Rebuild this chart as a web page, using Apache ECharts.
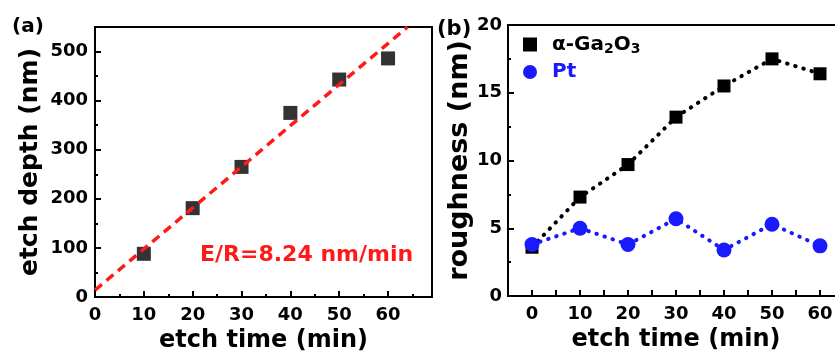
<!DOCTYPE html>
<html lang="en">
<head>
  <meta charset="UTF-8">
  <title>etch depth / roughness</title>
  <script src="https://cdn.jsdelivr.net/npm/echarts@6/dist/echarts.min.js"></script>
  <style>
    html, body { margin: 0; padding: 0; background: #fff; }
  </style>
</head>
<body>
  <div id="main" style="width:835px;height:352px"></div>

  <script>
    // (a) etch depth vs time
    var etchTime = [10, 20, 30, 40, 50, 60]
    var etchDepth = [88, 181, 265, 375, 443, 486]
    // fitted line endpoints
    var fitTime = [0, 64]
    var fitDepth = [14, 550]

    // (b) roughness vs time
    var roughTime = [0, 10, 20, 30, 40, 50, 60]
    var gaRough = [3.6, 7.3, 9.7, 13.2, 15.5, 17.5, 16.4]
    var ptRough = [3.8, 5.0, 3.8, 5.7, 3.4, 5.3, 3.7]

    var font = 'DejaVu Sans'
    var mCharts = echarts.init(document.getElementById('main'))

    function pairs(xs, ys) {
      return xs.map(function (x, i) { return [x, ys[i]] })
    }

    var tickLabel = { color: '#000', fontFamily: font, fontWeight: 'bold', fontSize: 18 }
    var axisLine = { show: true, onZero: false, lineStyle: { color: '#000', width: 2 } }
    var axisTick = { show: true, inside: true, length: 6, lineStyle: { color: '#000', width: 2 } }
    var minorTick = { show: true, splitNumber: 2, length: 3, lineStyle: { color: '#000', width: 2 } }
    function nameStyle(size) {
      return { color: '#000', fontFamily: font, fontWeight: 'bold', fontSize: size }
    }

    var option = {
      animation: false,
      grid: [
        { left: 95, top: 27, width: 337, height: 270, show: true, borderColor: '#000', borderWidth: 2, outerBoundsMode: 'none', containLabel: false },
        { left: 508, top: 25, width: 336, height: 271, show: true, borderColor: '#000', borderWidth: 2, outerBoundsMode: 'none', containLabel: false }
      ],
      xAxis: [
        {
          gridIndex: 0, type: 'value', min: 0, max: 69, interval: 10,
          name: 'etch time (min)', nameLocation: 'middle', nameGap: 30, nameTextStyle: nameStyle(24),
          axisLine: axisLine, axisTick: axisTick, minorTick: minorTick, splitLine: { show: false },
          axisLabel: Object.assign({ margin: 9, formatter: function (v) { return v % 10 === 0 ? v : '' } }, tickLabel)
        },
        {
          gridIndex: 1, type: 'value', min: -5, max: 65, interval: 5,
          name: 'etch time (min)', nameLocation: 'middle', nameGap: 30, nameTextStyle: nameStyle(24),
          axisLine: axisLine, axisTick: axisTick, splitLine: { show: false },
          axisLabel: Object.assign({ margin: 9, formatter: function (v) { return v % 10 === 0 ? v : '' } }, tickLabel)
        }
      ],
      yAxis: [
        {
          gridIndex: 0, type: 'value', min: 0, max: 550, interval: 100,
          name: 'etch depth (nm)', nameLocation: 'middle', nameGap: 52, nameTextStyle: nameStyle(25),
          axisLine: axisLine, axisTick: axisTick, minorTick: minorTick, splitLine: { show: false },
          axisLabel: Object.assign({ margin: 7, formatter: function (v) { return v % 100 === 0 ? v : '' } }, tickLabel)
        },
        {
          gridIndex: 1, type: 'value', min: 0, max: 20, interval: 5,
          name: 'roughness (nm)', nameLocation: 'middle', nameGap: 28, nameTextStyle: nameStyle(27),
          axisLine: axisLine, axisTick: axisTick, minorTick: minorTick, splitLine: { show: false },
          axisLabel: Object.assign({ margin: 6 }, tickLabel)
        }
      ],
      legend: {
        orient: 'vertical', left: 518, top: 28, itemGap: 6,
        itemWidth: 14, itemHeight: 14,
        data: [
          { name: 'α-Ga2O3', icon: 'rect' },
          { name: 'Pt', icon: 'circle' }
        ],
        formatter: function (name) {
          if (name === 'Pt') return '{b|Pt}'
          return '{k|α-Ga}{ks|2}{k|O}{ks|3}'
        },
        textStyle: {
          padding: [0, 0, 0, 10],
          rich: {
            k: { color: '#000', fontFamily: font, fontWeight: 'bold', fontSize: 20, lineHeight: 24 },
            ks: { color: '#000', fontFamily: font, fontWeight: 'bold', fontSize: 14, lineHeight: 24, padding: [9, 0, 0, 0] },
            b: { color: '#1a1aff', fontFamily: font, fontWeight: 'bold', fontSize: 20, lineHeight: 24 }
          }
        }
      },
      graphic: [
        { type: 'text', left: 12, top: 17, style: { text: '(a)', fill: '#000', font: 'bold 20px "DejaVu Sans"' } },
        { type: 'text', left: 437, top: 19, style: { text: '(b)', fill: '#000', font: 'bold 21px "DejaVu Sans"' } },
        { type: 'text', left: 200, top: 244, style: { text: 'E/R=8.24 nm/min', fill: '#ff1a1a', font: 'bold 22px "DejaVu Sans"' } }
      ],
      series: [
        {
          type: 'line', xAxisIndex: 0, yAxisIndex: 0, data: pairs(fitTime, fitDepth),
          symbol: 'none', clip: true,
          lineStyle: { color: '#ff1a1a', width: 3.5, type: [9, 6] }
        },
        {
          type: 'scatter', xAxisIndex: 0, yAxisIndex: 0, data: pairs(etchTime, etchDepth),
          symbol: 'rect', symbolSize: 14, itemStyle: { color: '#000' }
        },
        {
          name: 'α-Ga2O3', type: 'line', xAxisIndex: 1, yAxisIndex: 1, data: pairs(roughTime, gaRough),
          symbol: 'rect', symbolSize: 13, itemStyle: { color: '#000' },
          lineStyle: { color: '#000', width: 4, type: [0.5, 8], cap: 'round' }
        },
        {
          name: 'Pt', type: 'line', xAxisIndex: 1, yAxisIndex: 1, data: pairs(roughTime, ptRough),
          symbol: 'circle', symbolSize: 15, itemStyle: { color: '#1a1aff' },
          lineStyle: { color: '#1a1aff', width: 4, type: [0.5, 8], cap: 'round' }
        }
      ]
    }
    mCharts.setOption(option)
  </script>
</body>
</html>
